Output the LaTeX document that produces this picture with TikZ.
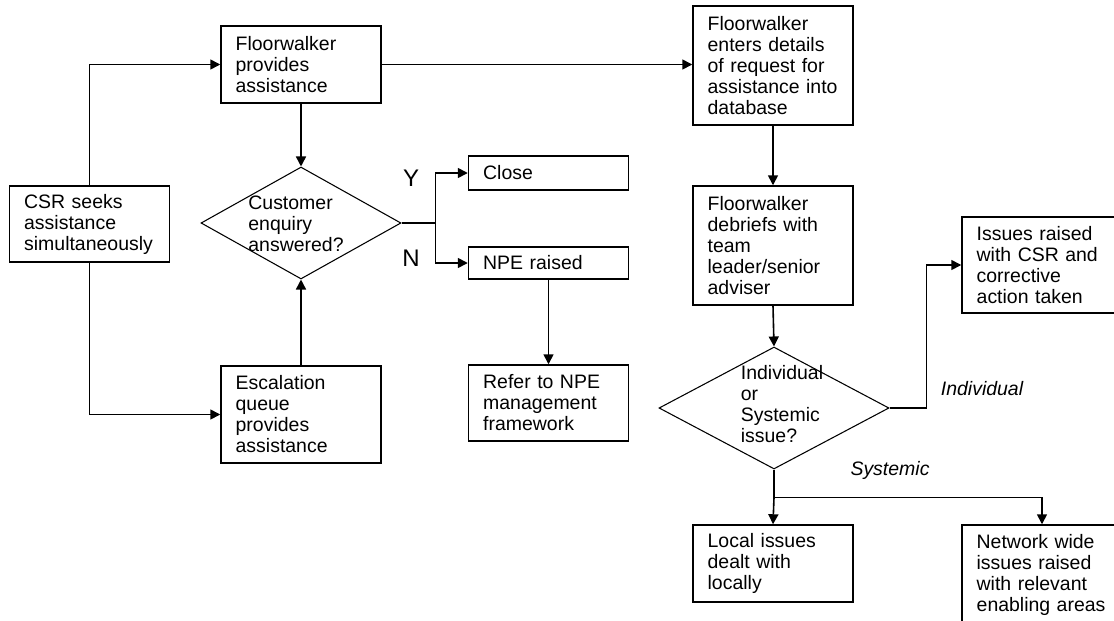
\documentclass[tikz,border=0pt]{standalone}
\usepackage{fontspec}
\setmainfont{Liberation Sans}
\usetikzlibrary{shapes.geometric,arrows.meta}
\tikzset{
  every node/.style={font=\fontsize{14.6}{15.75}\selectfont},
  box/.style={draw, line width=1.1pt, align=left, inner xsep=11pt, inner ysep=0pt,
    text width=98pt, minimum height=#1},
  decision/.style={draw, diamond, line width=0.8pt, inner sep=0pt},
  arr/.style={line width=1.2pt, -{Triangle[length=7.5pt,width=7.5pt]}},
  link/.style={line width=1.2pt},
  yn/.style={font=\fontsize{18}{20}\selectfont},
}
\begin{document}
\begin{tikzpicture}[x=0.75pt,y=-0.75pt]
        \clip (0,0) rectangle (1114,621);
        \fill[white] (0,0) rectangle (1114,621);
        \node[box=57pt] (csr) at (89.5,224) {CSR seeks\\assistance\\simultaneously};
        \node[box=57.75pt] (fw) at (301,64.5) {Floorwalker\\provides\\assistance};
        \node[box=72.75pt] (esc) at (301,414.5) {Escalation\\queue\\provides\\assistance};
        \node[decision, minimum width=150pt, minimum height=84pt] (q1) at (301,223) {};
        \node[align=left] (q1txt) at (296,223.5) {Customer\\enquiry\\answered?};
        \node[box=25.5pt] (close) at (548.5,173) {Close};
        \node[box=24pt] (npe) at (548.5,263) {NPE raised};
        \node[box=57pt] (refer) at (548.5,403) {Refer to NPE\\management\\framework};
        \node[yn] (yes) at (411,178) {Y};
        \node[yn] (no) at (411,258) {N};
        \node[box=89.25pt] (enter) at (773,65.5) {Floorwalker\\enters details\\of request for\\assistance into\\database};
        \node[box=89.25pt] (debrief) at (773,245.5) {Floorwalker\\debriefs with\\team\\leader/senior\\adviser};
        \node[decision, minimum width=172.5pt, minimum height=91.5pt] (q2) at (774,408) {};
        \node[align=left] (q2txt) at (782,404.5) {Individual\\or\\Systemic\\issue?};
        \node[box=72pt] (issues) at (1042,265) {Issues raised\\with CSR and\\corrective\\action taken};
        \node[box=57.75pt] (local) at (773,563.5) {Local issues\\dealt with\\locally};
        \node[box=75pt] (network) at (1042,575) {Network wide\\issues raised\\with relevant\\enabling areas};
        \node[font=\fontsize{14.6}{15.75}\selectfont\itshape] (indiv) at (982,389) {Individual};
        \node[font=\fontsize{14.6}{15.75}\selectfont\itshape] (syst) at (890,470) {Systemic};
        \draw[arr] (csr.north) |- (fw.west);
        \draw[arr] (csr.south) |- (esc.west);
        \draw[arr] (fw.south) -- (q1.north);
        \draw[arr] (esc.north) -- (q1.south);
        \draw[arr] (fw.east) -- (fw.east -| enter.west);
        \draw[link] (q1.east) -- ++(34,0) coordinate (split);
        \draw[arr] (split) |- (close.west);
        \draw[arr] (split) |- (npe.west);
        \draw[arr] (npe.south) -- (refer.north);
        \draw[arr] (enter.south) -- (debrief.north);
        \draw[arr] (debrief.south) -- (q2.north);
        \draw[arr] (q2.east) -- ++(37,0) |- (issues.west);
        \draw[link] (q2.south) -- ++(0,28) coordinate (fork);
        \draw[arr] (fork) -- (local.north);
        \draw[arr] (fork) -| (network.north);
      \end{tikzpicture}
\end{document}
